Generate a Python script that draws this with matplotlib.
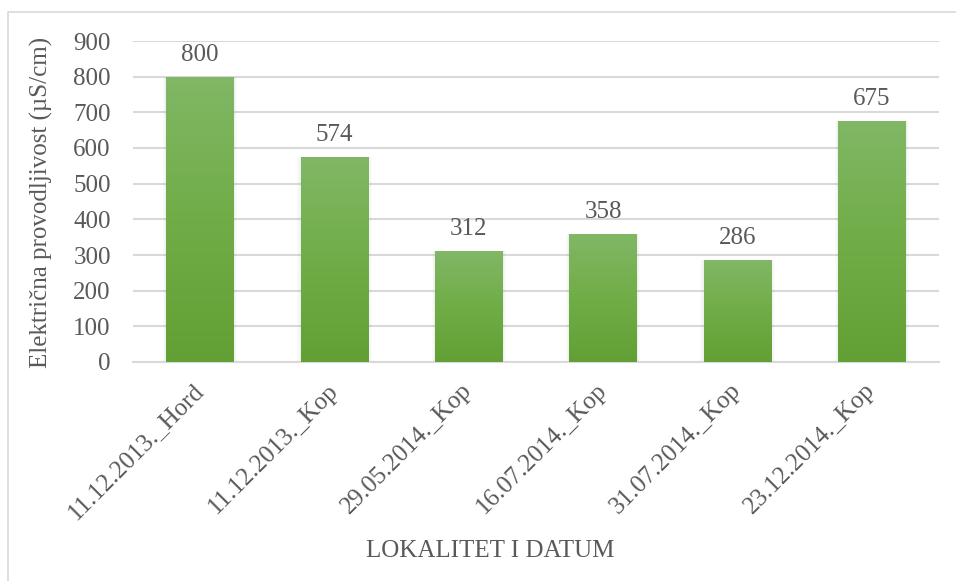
import numpy as np
import matplotlib.pyplot as plt
from matplotlib.colors import LinearSegmentedColormap
from matplotlib.lines import Line2D

# data
categories = ["11.12.2013._Hord", "11.12.2013._Kop", "29.05.2014._Kop",
              "16.07.2014._Kop", "31.07.2014._Kop", "23.12.2014._Kop"]
values = [800, 574, 312, 358, 286, 675]
yticks = [0, 100, 200, 300, 400, 500, 600, 700, 800, 900]

text_col = "#595959"
grid_col = "#d9d9d9"
plt.rcParams["font.family"] = ["Liberation Serif", "DejaVu Serif"]
fs = 18

fig = plt.figure(figsize=(9.56, 5.81), dpi=100)
ax = fig.add_axes([133 / 956, 1 - 362 / 581, (939 - 133) / 956, (362 - 41) / 581])

# chart border (top and left only visible)
fig.add_artist(Line2D([8 / 956, 8 / 956, 1], [0, 1 - 12 / 581, 1 - 12 / 581],
                      transform=fig.transFigure, color=grid_col, lw=1.2))

x = np.arange(len(categories))
width = 0.505
cmap = LinearSegmentedColormap.from_list("g", ["#62a035", "#70ad47", "#81b766"])
grad = np.linspace(0, 1, 256).reshape(-1, 1)

for xi, v in zip(x, values):
    # soft shadow
    for k, a in enumerate([0.05, 0.04, 0.03]):
        d = 0.008 * (k + 1)
        ax.add_patch(plt.Rectangle((xi - width / 2 - d, 0), width + 2 * d, v + d * 3,
                                   color="#808080", alpha=a, lw=0, zorder=2))
    bar = ax.bar(xi, v, width=width, color="none", zorder=3)[0]
    im = ax.imshow(grad, cmap=cmap, aspect="auto", origin="lower",
                   extent=(xi - width / 2, xi + width / 2, 0, v), zorder=3)
    im.set_clip_path(bar)
    ax.annotate(str(v), (xi, v), xytext=(0, 8), textcoords="offset points",
                ha="center", va="bottom", fontsize=fs, color=text_col)

ax.set_xlim(-0.5, len(categories) - 0.5)
ax.set_ylim(0, 900)
ax.set_yticks(yticks)
ax.yaxis.grid(True, color=grid_col, lw=1.5)
ax.set_axisbelow(True)
for s in ["top", "right", "left"]:
    ax.spines[s].set_visible(False)
ax.spines["bottom"].set_color(grid_col)
ax.spines["bottom"].set_linewidth(1.5)
ax.tick_params(axis="both", length=0, labelsize=fs, labelcolor=text_col)
ax.tick_params(axis="y", pad=16)
ax.set_xticks(x)
ax.set_xticklabels(categories, rotation=45, ha="right", va="center",
                   rotation_mode="anchor")
ax.tick_params(axis="x", pad=18)

fig.text(41 / 956, 1 - 202 / 581, "Električna provodljivost (µS/cm)", rotation=90,
         ha="center", va="center", fontsize=fs, color=text_col)
fig.text(490 / 956, 1 - 551 / 581, "LOKALITET I DATUM", ha="center", va="center",
         fontsize=fs, color=text_col)

fig.savefig("out.png", dpi=100)
